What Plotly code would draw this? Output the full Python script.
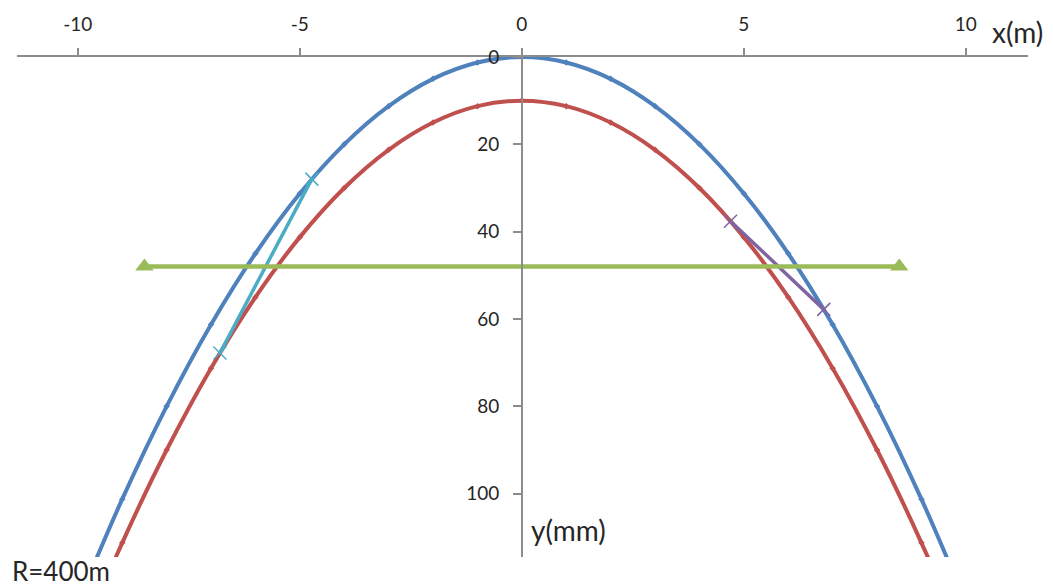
import plotly.graph_objects as go

# Offsets (mm) across the chord, x in metres, R = 400 m
x_pts = [-10, -9, -8, -7, -6, -5, -4, -3, -2, -1, 0, 1, 2, 3, 4, 5, 6, 7, 8, 9, 10]
y_outer = [125, 101.25, 80, 61.25, 45, 31.25, 20, 11.25, 5, 1.25, 0,
           1.25, 5, 11.25, 20, 31.25, 45, 61.25, 80, 101.25, 125]
y_inner = [135, 111.25, 90, 71.25, 55, 41.25, 30, 21.25, 15, 11.25, 10,
           11.25, 15, 21.25, 30, 41.25, 55, 71.25, 90, 111.25, 135]

# Horizontal reference line
level_x = [-8.5, 8.5]
level_y = [48, 48]

# Chords between the two curves
chord_left_x = [-4.73, -6.8]
chord_left_y = [27.97, 67.8]
chord_right_x = [4.7, 6.8]
chord_right_y = [37.6, 57.8]

x_ticks = [-10, -5, 0, 5, 10]
y_ticks = [0, 20, 40, 60, 80, 100]

x_range = [-11.37, 11.4]
y_range = [114.5, 0]

BLUE = "#4F81BD"
RED = "#C0504D"
GREEN = "#9BBB59"
CYAN = "#4BACC6"
PURPLE = "#8064A2"
AXIS = "#8C8C8C"
TEXT = "#262626"
FONT = "Lato"

fig = go.Figure()

fig.add_trace(go.Scatter(
    x=x_pts, y=y_outer, mode="lines+markers",
    line=dict(color=BLUE, width=4, shape="spline", smoothing=1),
    marker=dict(symbol="diamond", size=5, color=BLUE),
))
fig.add_trace(go.Scatter(
    x=x_pts, y=y_inner, mode="lines+markers",
    line=dict(color=RED, width=4, shape="spline", smoothing=1),
    marker=dict(symbol="diamond", size=5, color=RED),
))
fig.add_trace(go.Scatter(
    x=chord_left_x, y=chord_left_y, mode="lines+markers",
    line=dict(color=CYAN, width=3.5),
    marker=dict(symbol="x-thin", size=13, line=dict(color=CYAN, width=1.5)),
))
fig.add_trace(go.Scatter(
    x=chord_right_x, y=chord_right_y, mode="lines+markers",
    line=dict(color=PURPLE, width=3.5),
    marker=dict(symbol="x-thin", size=13, line=dict(color=PURPLE, width=1.5)),
))
fig.add_trace(go.Scatter(
    x=level_x, y=level_y, mode="lines+markers",
    line=dict(color=GREEN, width=4.5),
    marker=dict(symbol="triangle-up", size=16, color=GREEN),
    cliponaxis=False,
))

y_pos = (0 - x_range[0]) / (x_range[1] - x_range[0])

fig.update_layout(
    width=1053, height=587,
    margin=dict(l=17, r=25, t=52, b=30),
    paper_bgcolor="white", plot_bgcolor="white",
    showlegend=False,
    font=dict(family=FONT, color=TEXT),
    xaxis=dict(
        range=x_range, side="top", anchor="y",
        tickvals=x_ticks, ticktext=[str(v) for v in x_ticks],
        showline=True, linecolor=AXIS, linewidth=1.5,
        ticks="outside", ticklen=7, tickwidth=1.5, tickcolor=AXIS,
        ticklabelstandoff=10,
        showgrid=False, zeroline=False,
        tickfont=dict(family=FONT, size=19, color=TEXT),
    ),
    yaxis=dict(
        range=y_range, anchor="free", position=y_pos,
        tickvals=y_ticks, ticktext=[str(v) for v in y_ticks],
        showline=True, linecolor=AXIS, linewidth=1.5,
        ticks="outside", ticklen=8, tickwidth=1.5, tickcolor=AXIS,
        ticklabelstandoff=10,
        showgrid=False, zeroline=False,
        tickfont=dict(family=FONT, size=19, color=TEXT),
    ),
    annotations=[
        dict(text="x(m)", xref="paper", yref="paper", x=0.9895, y=1.05,
             xanchor="center", yanchor="middle", showarrow=False,
             font=dict(family=FONT, size=28, color=TEXT)),
        dict(text="y(mm)", xref="paper", yref="paper", x=0.5064, y=0.055,
             xanchor="left", yanchor="middle", showarrow=False,
             font=dict(family=FONT, size=28, color=TEXT)),
        dict(text="R=400m", xref="paper", yref="paper", x=-0.0069, y=-0.028,
             xanchor="left", yanchor="middle", showarrow=False,
             font=dict(family=FONT, size=26, color=TEXT)),
    ],
)

fig.write_html("out.html")
